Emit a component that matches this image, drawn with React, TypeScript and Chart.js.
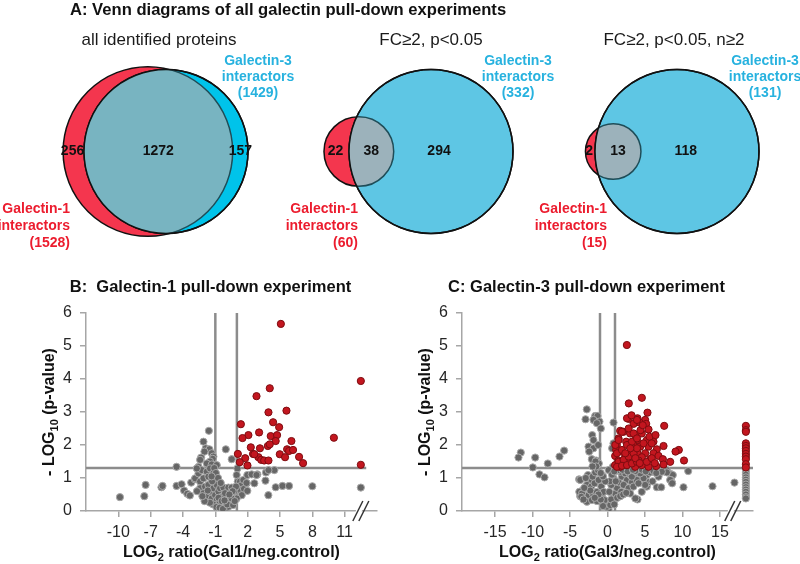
import React, { useEffect, useRef } from "react";
import { Chart, registerables } from "chart.js";

Chart.register(...registerables);

const FONT = '"Liberation Sans", Arial, Helvetica, sans-serif';

// ---------------- Venn data ----------------
const vennSubtitles = ["all identified proteins", "FC≥2, p<0.05", "FC≥2, p<0.05, n≥2"];
const gal1Totals = [1528, 60, 15];
const gal3Totals = [1429, 332, 131];
const gal1OnlyCounts = [256, 22, 2];
const sharedCounts = [1272, 38, 13];
const gal3OnlyCounts = [157, 294, 118];

// ---------------- Volcano data ----------------
// Galectin-1 pull-down: [log2 ratio, -log10 p]
const gal1Significant: [number, number][] = [
  [5.08, 5.67], [4.05, 3.72], [2.82, 3.48], [5.6, 3.04], [3.93, 2.99], [1.37, 2.63], [4.36, 2.69],
  [4.92, 2.54], [3.06, 2.38], [2.07, 2.3], [1.52, 2.21], [4.14, 2.27], [4.73, 2.3], [6.06, 2.12],
  [4.6, 2.12], [10.0, 2.22], [2.29, 1.93], [3.87, 1.97], [4.05, 2.02], [5.66, 1.87], [5.84, 1.82],
  [6.21, 1.85], [4.98, 1.72], [1.09, 1.73], [2.5, 1.73], [3.0, 1.63], [5.47, 1.63], [6.77, 1.64],
  [1.77, 1.6], [3.25, 1.55], [3.53, 1.53], [3.93, 1.53], [1.27, 1.48], [7.14, 1.45], [1.98, 1.38],
  [3.14, 1.9], [2.62, 1.72],
];
const gal1Other: [number, number][] = [
  [-9.85, 0.42], [-7.59, 0.45], [-7.47, 0.79], [-6.0, 0.72], [-5.9, 0.76], [-4.6, 1.34], [-4.6, 0.76],
  [-4.13, 0.81], [-3.9, 0.62], [-3.6, 0.52], [-3.36, 0.47], [-3.24, 0.86], [-2.9, 0.96],
  [-1.6, 2.43], [-2.1, 2.1], [-1.89, 1.9], [-1.55, 1.87], [-2.01, 1.8], [-1.33, 1.75], [-1.18, 1.65],
  [-2.32, 1.62], [-2.41, 1.55], [-1.24, 1.58], [-1.49, 1.5], [-1.79, 1.44], [-1.33, 1.41], [-0.03, 1.87],
  [0.52, 1.57], [-2.56, 1.34], [-0.87, 1.39],
  [1.05, 1.29], [0.98, 1.09], [1.08, 0.89], [1.29, 0.89], [1.45, 0.79], [1.23, 0.64], [1.6, 0.94],
  [1.97, 1.09], [2.37, 1.11], [2.9, 1.11], [2.62, 0.84], [1.91, 0.84], [1.66, 0.67], [1.97, 0.61],
  [1.45, 0.48], [0.98, 0.38], [3.92, 0.48], [3.7, 1.17], [3.65, 0.92], [4.48, 1.24], [3.93, 1.24],
  [2.82, 1.09], [1.89, 0.85], [4.6, 0.72], [5.23, 0.76], [5.84, 0.76], [8.0, 0.75],
  [-2.87, 0.99], [-2.56, 1.14], [-2.26, 1.24], [-2.72, 1.29], [-2.41, 0.89], [-2.1, 0.99], [-1.79, 1.19],
  [-1.49, 1.29], [-1.64, 1.04], [-1.18, 1.14], [-1.02, 0.94], [-2.41, 0.69], [-1.95, 0.74], [-1.64, 0.79],
  [-2.1, 0.54], [-1.79, 0.43], [-1.49, 0.59], [-1.18, 0.69], [-0.87, 0.79], [-1.33, 0.38], [-1.02, 0.48],
  [-0.71, 0.59], [-0.56, 0.69], [-0.25, 0.71], [0.21, 0.71], [0.52, 0.71], [-0.87, 0.33], [-0.56, 0.26],
  [-0.25, 0.18], [-0.03, 0.03], [0.21, 0.13], [0.37, 0.26], [0.06, 0.38], [0.43, 0.48], [0.74, 0.59],
  [0.92, 0.74], [-0.41, 0.43], [-0.1, 0.54], [0.52, 0.38], [-1.2, 0.2], [-0.9, 0.12], [-0.6, 0.1],
  [-0.3, 0.06], [0.1, 0.2], [-0.7, 0.4], [-1.5, 0.25], [-2.0, 0.3], [-1.3, 0.9], [-1.7, 0.62],
  [-0.4, 0.3], [0.6, 0.6], [0.3, 0.5], [-0.15, 0.32], [0.65, 0.18], [0.8, 0.3], [-1.1, 1.3],
  [-0.95, 1.15], [-0.75, 1.0], [-0.5, 0.85], [-1.35, 1.05], [-2.2, 0.45], [-2.7, 0.6],
];
const gal1InfiniteSignificant = [3.94, 1.4];
const gal1InfiniteOther = [0.71];

// Galectin-3 pull-down
const gal3Significant: [number, number][] = [
  [2.58, 5.03], [4.58, 3.43], [2.84, 3.26], [5.33, 2.98], [4.0, 2.81], [2.84, 2.79], [5.02, 2.76],
  [4.27, 2.68], [3.47, 2.64], [5.16, 2.64], [7.56, 2.58], [1.69, 2.43], [2.13, 2.4], [3.02, 2.35],
  [3.69, 2.3], [4.58, 2.35], [5.47, 2.47], [3.91, 2.15], [5.24, 2.15], [1.47, 2.2], [2.49, 2.1],
  [3.47, 2.0], [6.13, 2.1], [7.47, 1.97], [1.24, 2.0], [4.36, 1.95], [5.47, 1.95], [6.58, 1.87],
  [9.51, 1.85], [9.07, 1.8], [1.16, 1.85], [1.91, 1.8], [3.02, 1.77], [4.0, 1.75], [5.02, 1.75],
  [6.13, 1.75], [6.8, 1.67], [1.02, 1.67], [2.36, 1.63], [3.47, 1.6], [4.58, 1.63], [5.69, 1.57],
  [10.2, 1.53], [8.36, 1.49], [7.38, 1.57], [1.02, 1.39], [1.69, 1.34], [2.58, 1.39], [3.69, 1.34],
  [4.58, 1.39], [5.47, 1.34], [6.49, 1.36], [7.47, 1.41], [1.47, 1.53], [3.02, 1.49], [4.13, 1.53],
  [5.24, 1.49], [2.6, 2.81], [3.93, 2.76], [1.04, 2.0], [1.48, 2.15], [1.93, 2.4], [2.82, 2.5],
  [3.48, 2.35], [1.26, 1.75], [1.93, 1.85], [2.6, 2.0], [3.26, 2.1], [3.93, 2.2], [1.48, 1.49],
  [2.15, 1.55], [2.82, 1.65], [3.48, 1.75], [3.93, 1.9], [1.26, 1.34], [1.93, 1.37], [2.6, 1.39],
  [3.26, 1.44], [3.93, 1.49], [3.04, 1.9], [2.37, 1.75], [3.71, 1.6], [4.8, 2.05], [5.9, 1.6],
  [6.3, 1.45], [4.3, 1.45], [5.6, 2.25], [6.4, 2.3], [4.4, 2.45], [5.9, 2.05], [3.2, 2.9], [4.7, 2.6],
];
const gal3Other: [number, number][] = [
  [-2.76, 3.08], [-2.93, 2.78], [-1.64, 2.88], [-1.33, 2.88], [-1.07, 2.71], [-1.87, 2.76], [-1.42, 2.66],
  [-0.89, 2.5], [0.8, 2.68], [-2.04, 2.3], [-1.87, 2.15], [-2.53, 1.95], [-1.87, 1.9], [-1.24, 2.0],
  [-2.44, 1.8], [-2.09, 1.57], [-1.51, 1.53], [-1.16, 1.44], [0.8, 2.05], [0.62, 1.9], [0.71, 1.34],
  [-11.56, 1.77], [-11.87, 1.62], [-9.64, 1.62], [-9.96, 1.32], [-7.96, 1.44], [-6.4, 1.65], [-5.78, 1.83],
  [-9.07, 1.11], [-8.4, 1.02], [-3.78, 0.96], [-3.64, 0.59], [-3.64, 0.45], [4.0, 0.35], [5.24, 0.74],
  [6.58, 0.72], [7.16, 0.72], [7.91, 1.24], [8.44, 1.12], [8.71, 1.09], [8.44, 0.94], [8.58, 0.86],
  [10.13, 0.72], [10.76, 1.21], [14.0, 0.75], [16.93, 0.86],
  [-3.63, 0.94], [-3.76, 0.58], [-3.4, 0.53], [-3.49, 0.43], [-2.6, 1.09], [-2.29, 0.94], [-1.98, 1.04],
  [-1.63, 1.17], [-1.27, 1.24], [-2.74, 0.79], [-2.16, 0.74], [-1.72, 0.84], [-1.18, 0.94], [-2.52, 0.48],
  [-1.98, 0.53], [-1.4, 0.58], [-0.83, 0.74], [-2.74, 0.28], [-2.07, 0.33], [-1.4, 0.3], [-0.74, 0.43],
  [-0.52, 0.58], [-0.29, 0.23], [0.15, 0.03], [-0.07, 0.13], [-0.38, 0.33], [0.37, 0.18], [0.68, 0.38],
  [1.04, 0.53], [1.26, 0.7], [1.48, 0.87], [0.82, 0.99], [0.51, 0.79], [0.24, 0.58], [1.93, 1.04],
  [1.71, 1.19], [2.37, 1.14], [2.6, 0.94], [2.15, 0.79], [3.04, 1.09], [3.26, 0.87], [2.82, 0.69],
  [1.84, 0.58], [3.71, 0.38], [3.93, 0.99], [0.15, 1.24], [1.4, 1.24], [3.71, 1.21], [-1.6, 1.5],
  [-1.5, 1.35], [-2.0, 1.35], [-2.9, 1.0], [7.91, 1.17], [8.35, 0.94], [8.62, 0.84], [5.24, 1.09],
  [5.69, 1.17], [6.13, 1.21], [5.46, 0.87], [4.8, 0.99], [4.35, 1.14], [3.91, 0.94], [3.46, 0.74],
  [3.02, 0.53], [3.24, 1.04], [5.02, 0.79], [6.8, 1.04], [7.24, 1.19], [3.69, 1.21], [4.13, 0.84],
  [4.57, 0.58], [-0.6, 0.15], [-0.9, 0.35], [-1.2, 0.5], [0.5, 0.35], [0.9, 0.2], [1.3, 0.4],
  [1.7, 0.45], [2.1, 0.5], [2.5, 0.55], [-1.7, 0.4], [-2.3, 0.62], [-3.1, 0.7], [-3.2, 0.35],
  [0.3, 0.9], [0.6, 1.1], [0.9, 1.2], [1.1, 0.9], [-0.3, 0.9], [-0.6, 1.05], [-0.9, 1.15],
  [2.0, 1.25], [2.7, 1.2], [3.4, 1.25], [4.6, 1.25], [5.1, 1.2], [6.5, 1.15], [6.0, 0.9],
];
const gal3InfiniteSignificant = [2.58, 2.45, 2.4, 2.05, 1.97, 1.9, 1.82, 1.73, 1.65, 1.57, 1.42, 1.32];
const gal3InfiniteOther = [1.25, 1.18, 1.1, 1.02, 0.95, 0.88, 0.8, 0.72, 0.65, 0.58, 0.5, 0.42, 0.38];

const gal1XTicks = [-10, -7, -4, -1, 2, 5, 8, 11];
const gal3XTicks = [-15, -10, -5, 0, 5, 10, 15];
const yTicks = [0, 1, 2, 3, 4, 5, 6];
const foldChangeCutoffs = [-1, 1];
const pValueCutoff = 1.3;

// ---------------- layout / style ----------------
const VENN_CX = [166, 431, 677];
const VENN_CY = 151.5;
const VENN_R = 82;
const VENN_CYAN = ["#00c3ea", "#5ec6e4", "#5ec6e4"];
const VENN_OVERLAP = ["#78b4c1", "#9cb2bb", "#9cb2bb"];
const VENN_RED = "#f4364e";
const SUB_DX = [-7, 0, -3];
const RED_LABEL_RIGHT = [70, 358, 607];
const CYAN_LABEL_X = [258, 518, 765];

function lensArea(r1: number, r2: number, d: number) {
  if (d >= r1 + r2) return 0;
  if (d <= Math.abs(r1 - r2)) return Math.PI * Math.min(r1, r2) ** 2;
  const a = r1 * r1 * Math.acos((d * d + r1 * r1 - r2 * r2) / (2 * d * r1));
  const b = r2 * r2 * Math.acos((d * d + r2 * r2 - r1 * r1) / (2 * d * r2));
  const c = 0.5 * Math.sqrt((-d + r1 + r2) * (d + r1 - r2) * (d - r1 + r2) * (d + r1 + r2));
  return a + b - c;
}
function solveDistance(r1: number, r2: number, area: number) {
  let lo = Math.abs(r1 - r2), hi = r1 + r2;
  for (let i = 0; i < 80; i++) {
    const mid = (lo + hi) / 2;
    if (lensArea(r1, r2, mid) > area) lo = mid; else hi = mid;
  }
  return (lo + hi) / 2;
}

function VennChart() {
  const ref = useRef<HTMLCanvasElement>(null);
  useEffect(() => {
    const geom = VENN_CX.map((cx, i) => {
      const rC = VENN_R;
      const rR = VENN_R * Math.sqrt(gal1Totals[i] / gal3Totals[i]);
      const target = (sharedCounts[i] / gal3Totals[i]) * Math.PI * rC * rC;
      const d = solveDistance(rR, rC, target);
      return { cx, rx: cx - d, rC, rR };
    });
    const overlay = {
      id: "vennOverlay",
      afterDatasetsDraw(chart: any) {
        const ctx = chart.ctx;
        const cyanMeta = chart.getDatasetMeta(0);
        const redMeta = chart.getDatasetMeta(1);
        for (let i = 0; i < 3; i++) {
          const c = cyanMeta.data[i];
          const r = redMeta.data[i];
          const rc = c.options.radius;
          const rr = r.options.radius;
          ctx.save();
          ctx.beginPath();
          ctx.arc(c.x, c.y, rc, 0, Math.PI * 2);
          ctx.clip();
          ctx.beginPath();
          ctx.arc(r.x, r.y, rr, 0, Math.PI * 2);
          ctx.fillStyle = VENN_OVERLAP[i];
          ctx.fill();
          ctx.lineWidth = 1.5;
          ctx.strokeStyle = "#1f4d58";
          ctx.stroke();
          ctx.restore();
          ctx.beginPath();
          ctx.arc(c.x, c.y, rc, 0, Math.PI * 2);
          ctx.lineWidth = 1.5;
          ctx.strokeStyle = "#111";
          ctx.stroke();

          // region counts
          const redLeft = r.x - rr, redRight = r.x + rr;
          const cyLeft = c.x - rc, cyRight = c.x + rc;
          const w = cyRight - redRight;
          ctx.fillStyle = "#111";
          ctx.font = "bold 14px " + FONT;
          ctx.textAlign = "center";
          ctx.textBaseline = "middle";
          ctx.fillText(String(gal1OnlyCounts[i]), (redLeft + cyLeft) / 2 - 1, c.y);
          ctx.fillText(String(sharedCounts[i]), (cyLeft + redRight) / 2, c.y);
          ctx.fillText(String(gal3OnlyCounts[i]), redRight + (w < 50 ? w / 2 : w * 0.38), c.y);

          // subtitle
          ctx.font = "17px " + FONT;
          ctx.fillStyle = "#1a1a1a";
          ctx.fillText(vennSubtitles[i], c.x + SUB_DX[i], 40);

          // set labels
          ctx.font = "bold 14px " + FONT;
          ctx.fillStyle = "#27b2df";
          ctx.textAlign = "center";
          ["Galectin-3", "interactors", "(" + gal3Totals[i] + ")"].forEach((t, k) =>
            ctx.fillText(t, CYAN_LABEL_X[i], 61 + k * 16)
          );
          ctx.fillStyle = "#ec1c2e";
          ctx.textAlign = "right";
          ["Galectin-1", "interactors", "(" + gal1Totals[i] + ")"].forEach((t, k) =>
            ctx.fillText(t, RED_LABEL_RIGHT[i], 209 + k * 17)
          );
        }
        ctx.font = "bold 16.6px " + FONT;
        ctx.fillStyle = "#111";
        ctx.textAlign = "left";
        ctx.textBaseline = "middle";
        ctx.fillText("A: Venn diagrams of all galectin pull-down experiments", 70, 10);
      },
    };
    const chart = new Chart(ref.current!, {
      type: "bubble",
      data: {
        datasets: [
          {
            label: "Galectin-3 interactors",
            data: geom.map((g) => ({ x: g.cx, y: VENN_CY, r: g.rC })),
            backgroundColor: VENN_CYAN,
            borderColor: "#111",
            borderWidth: 1.5,
            clip: false,
          },
          {
            label: "Galectin-1 interactors",
            data: geom.map((g) => ({ x: g.rx, y: VENN_CY, r: g.rR })),
            backgroundColor: VENN_RED,
            borderColor: "#111",
            borderWidth: 1.5,
            clip: false,
          },
        ],
      },
      options: {
        responsive: false,
        animation: false,
        events: [],
        layout: { padding: 0, autoPadding: false },
        plugins: { legend: { display: false }, tooltip: { enabled: false } },
        scales: {
          x: { type: "linear", min: 0, max: 800, display: false },
          y: { type: "linear", min: 0, max: 262, reverse: true, display: false },
        },
      },
      plugins: [overlay],
    } as any);
    return () => chart.destroy();
  }, []);
  return (
    <canvas ref={ref} width={800} height={262}
      style={{ position: "absolute", left: 0, top: 0, width: 800, height: 262 }} />
  );
}

type VolcanoCfg = {
  title: string;
  xLabel: string;
  sig: [number, number][];
  other: [number, number][];
  infSig: number[];
  infOther: number[];
  infX: number;
  breakX: number;
  xMin: number;
  xMax: number;
  hEnd: number;
  xTicks: number[];
  yAxisWidth: number;
  padRight: number;
};

function drawRich(ctx: any, parts: { t: string; sub?: boolean }[], x: number, y: number) {
  const big = "bold 16px " + FONT;
  const small = "bold 11px " + FONT;
  const widths = parts.map((p) => {
    ctx.font = p.sub ? small : big;
    return ctx.measureText(p.t).width;
  });
  const total = widths.reduce((a, b) => a + b, 0);
  let cx = x - total / 2;
  ctx.textAlign = "left";
  ctx.textBaseline = "middle";
  parts.forEach((p, i) => {
    ctx.font = p.sub ? small : big;
    ctx.fillText(p.t, cx, p.sub ? y + 5 : y);
    cx += widths[i];
  });
}

function Volcano({ cfg, left }: { cfg: VolcanoCfg; left: number }) {
  const ref = useRef<HTMLCanvasElement>(null);
  useEffect(() => {
    const deco = {
      id: "volcanoDeco",
      afterDraw(chart: any) {
        const ctx = chart.ctx;
        const a = chart.chartArea;
        const xs = chart.scales.x;
        ctx.save();
        ctx.fillStyle = "#111";
        ctx.font = "bold 16.5px " + FONT;
        ctx.textAlign = "center";
        ctx.textBaseline = "middle";
        ctx.fillText(cfg.title, (a.left + a.right) / 2 - 21, 25);
        drawRich(ctx, [{ t: "LOG" }, { t: "2", sub: true }, { t: cfg.xLabel }], (a.left + a.right) / 2, a.bottom + 42);
        ctx.save();
        ctx.translate(a.left - 36, (a.top + a.bottom) / 2);
        ctx.rotate(-Math.PI / 2);
        drawRich(ctx, [{ t: "- LOG" }, { t: "10", sub: true }, { t: " (p-value)" }], 0, 0);
        ctx.restore();
        // axis break marks
        const bx = xs.getPixelForValue(cfg.breakX);
        const by = a.bottom;
        ctx.fillStyle = "#fff";
        ctx.beginPath();
        ctx.moveTo(bx - 7.5, by + 9);
        ctx.lineTo(bx - 2.5, by - 9);
        ctx.lineTo(bx + 3.5, by - 9);
        ctx.lineTo(bx - 1.5, by + 9);
        ctx.closePath();
        ctx.fill();
        ctx.strokeStyle = "#333";
        ctx.lineWidth = 1.5;
        for (const off of [-3, 3]) {
          ctx.beginPath();
          ctx.moveTo(bx + off - 5, by + 10);
          ctx.lineTo(bx + off + 5, by - 10);
          ctx.stroke();
        }
        ctx.restore();
      },
    };
    const lineStyle = { showLine: true, pointRadius: 0, borderColor: "#8c8c8c", borderWidth: 2.5, fill: false };
    const chart = new Chart(ref.current!, {
      type: "scatter",
      data: {
        datasets: [
          {
            label: "significant",
            data: [
              ...cfg.sig.map(([x, y]) => ({ x, y })),
              ...cfg.infSig.map((y) => ({ x: cfg.infX, y })),
            ],
            backgroundColor: "#c3161f",
            borderColor: "#7e0c10",
            borderWidth: 1,
            pointRadius: 3.6,
          },
          {
            label: "not significant",
            data: [
              ...cfg.other.map(([x, y]) => ({ x, y })),
              ...cfg.infOther.map((y) => ({ x: cfg.infX, y })),
            ],
            backgroundColor: "#666666",
            borderColor: "#a9a9a9",
            borderWidth: 1,
            pointRadius: 3.6,
          },
          ...foldChangeCutoffs.map((fc) => ({
            label: "fc " + fc,
            data: [{ x: fc, y: yTicks[0] }, { x: fc, y: yTicks[yTicks.length - 1] }],
            ...lineStyle,
          })),
          {
            label: "p cutoff",
            data: [{ x: cfg.xMin, y: pValueCutoff }, { x: cfg.hEnd, y: pValueCutoff }],
            ...lineStyle,
          },
        ],
      },
      options: {
        responsive: false,
        animation: false,
        events: [],
        layout: { padding: { top: 51, right: cfg.padRight, left: 0, bottom: 0 }, autoPadding: false },
        plugins: { legend: { display: false }, tooltip: { enabled: false } },
        scales: {
          x: {
            type: "linear",
            min: cfg.xMin,
            max: cfg.xMax,
            afterBuildTicks: (s: any) => { s.ticks = cfg.xTicks.map((v) => ({ value: v })); },
            afterFit: (s: any) => { s.height = 53; },
            border: { display: true, color: "#a6a6a6", width: 1.5 },
            grid: { display: true, drawOnChartArea: false, drawTicks: true, tickLength: 6, color: "#a6a6a6", lineWidth: 1.5 },
            ticks: { font: { family: FONT, size: 16 }, color: "#262626", padding: 6, maxRotation: 0, autoSkip: false },
          },
          y: {
            type: "linear",
            min: yTicks[0],
            max: yTicks[yTicks.length - 1],
            afterBuildTicks: (s: any) => { s.ticks = yTicks.map((v) => ({ value: v })); },
            afterFit: (s: any) => { s.width = cfg.yAxisWidth; },
            border: { display: true, color: "#a6a6a6", width: 1.5 },
            grid: { display: true, drawOnChartArea: false, drawTicks: true, tickLength: 6, color: "#a6a6a6", lineWidth: 1.5 },
            ticks: { font: { family: FONT, size: 16 }, color: "#262626", padding: 8 },
          },
        },
      },
      plugins: [deco],
    } as any);
    return () => chart.destroy();
  }, []);
  return (
    <canvas ref={ref} width={400} height={302}
      style={{ position: "absolute", left, top: 262, width: 400, height: 302 }} />
  );
}

const gal1Cfg: VolcanoCfg = {
  title: "B:  Galectin-1 pull-down experiment",
  xLabel: " ratio(Gal1/neg.control)",
  sig: gal1Significant,
  other: gal1Other,
  infSig: gal1InfiniteSignificant,
  infOther: gal1InfiniteOther,
  infX: 12.5,
  breakX: 12.5,
  xMin: -13,
  xMax: 14,
  hEnd: 13,
  xTicks: gal1XTicks,
  yAxisWidth: 86,
  padRight: 23,
};
const gal3Cfg: VolcanoCfg = {
  title: "C: Galectin-3 pull-down experiment",
  xLabel: " ratio(Gal3/neg.control)",
  sig: gal3Significant,
  other: gal3Other,
  infSig: gal3InfiniteSignificant,
  infOther: gal3InfiniteOther,
  infX: 18.45,
  breakX: 16.7,
  xMin: -19.4,
  xMax: 19.4,
  hEnd: 19.4,
  xTicks: gal3XTicks,
  yAxisWidth: 62,
  padRight: 47,
};

export default function App() {
  return (
    <div style={{ position: "fixed", left: 0, top: 0, width: 800, height: 564, background: "#fff", overflow: "hidden" }}>
      <VennChart />
      <Volcano cfg={gal1Cfg} left={0} />
      <Volcano cfg={gal3Cfg} left={400} />
    </div>
  );
}
